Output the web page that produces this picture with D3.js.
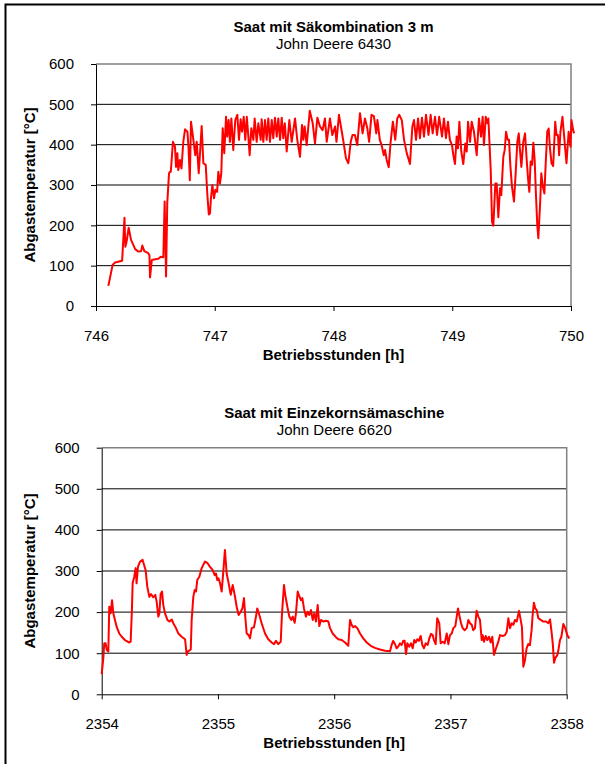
<!DOCTYPE html>
<html lang="de">
<head>
<meta charset="UTF-8">
<title>Abgastemperatur</title>
<script src="https://d3js.org/d3.v7.min.js"></script>
<style>
  body { margin: 0; background: #fff; }
  svg { display: block; font-family: "Liberation Sans", Arial, sans-serif; }
</style>
</head>
<body>
<svg id="chart" width="605" height="764"></svg>
<script>
// --- data ---
const hoursTop = [746.104,746.14,746.16,746.22,746.24,746.247,746.258,746.275,746.295,746.33,746.356,746.38,746.39,746.407,746.44,746.45,746.455,746.47,746.50,746.525,746.545,746.567,746.578,746.59,746.60,746.615,746.623,746.63,746.648,746.665,746.674,746.685,746.693,746.707,746.72,746.735,746.75,746.77,746.78,746.79,746.80,746.82,746.836,746.848,746.865,746.876,746.89,746.904,746.924,746.937,746.95,746.96,746.968,746.98,746.994,747.005,747.02,747.03,747.044,747.055,747.067,747.08,747.095,747.105,747.117,747.128,747.14,747.156,747.173,747.19,747.204,747.218,747.23,747.244,747.257,747.27,747.283,747.294,747.308,747.325,747.336,747.353,747.367,747.387,747.395,747.409,747.423,747.437,747.451,747.465,747.48,747.493,747.507,747.522,747.535,747.55,747.564,747.577,747.59,747.606,747.628,747.648,747.676,747.695,747.718,747.735,747.746,747.757,747.774,747.80,747.825,747.844,747.864,747.886,747.908,747.928,747.943,747.97,747.99,748.013,748.025,748.046,748.07,748.086,748.105,748.125,748.145,748.16,748.18,748.2,748.223,748.245,748.265,748.285,748.3,748.32,748.34,748.36,748.37,748.39,748.405,748.423,748.434,748.448,748.465,748.48,748.5,748.52,748.537,748.554,748.575,748.594,748.617,748.644,748.664,748.678,748.695,748.712,748.728,748.745,748.762,748.779,748.8,748.818,748.835,748.855,748.872,748.89,748.914,748.93,748.947,748.964,748.98,748.998,749.009,749.023,749.037,749.048,749.06,749.076,749.093,749.11,749.122,749.133,749.15,749.164,749.183,749.206,749.225,749.242,749.256,749.267,749.282,749.295,749.304,749.324,749.335,749.346,749.363,749.374,749.388,749.402,749.413,749.43,749.442,749.453,749.467,749.478,749.49,749.503,749.52,749.534,749.548,749.56,749.57,749.582,749.598,749.613,749.627,749.638,749.649,749.66,749.672,749.683,749.694,749.705,749.716,749.725,749.74,749.75,749.763,749.776,749.787,749.80,749.812,749.823,749.836,749.85,749.867,749.878,749.89,749.9,749.911,749.928,749.94,749.962,749.98,749.996,750.004,750.018,750.026];
const tempTop = [50,102,108,112,219,147,160,194,164,141,135,136,150,136,131,126,71,114,116,117,122,121,259,73,255,329,333,333,407,395,345,379,337,362,341,407,438,432,387,312,457,412,374,407,329,379,446,354,350,279,227,230,267,300,267,288,283,333,304,329,441,379,469,420,461,407,465,387,461,474,412,463,432,469,412,469,420,374,441,412,465,407,453,412,463,407,461,412,465,407,461,416,467,420,465,412,467,416,453,383,461,407,465,412,370,449,412,445,399,484,453,403,467,445,436,465,407,465,424,445,407,474,432,403,366,354,407,424,424,399,478,428,465,440,407,474,471,428,461,412,399,374,387,362,344,403,457,412,465,474,461,412,379,352,445,461,412,465,416,467,420,474,424,474,428,469,424,469,420,465,416,457,412,399,374,352,420,391,457,383,352,403,383,457,407,457,432,374,465,420,469,399,469,453,465,337,209,199,304,304,220,292,275,370,387,432,412,412,345,296,259,329,407,428,387,345,407,428,362,317,283,358,350,405,362,275,201,168,255,329,296,279,354,432,440,391,354,347,457,424,424,374,432,469,428,354,432,395,461,436,428];

const hoursBottom = [2354.0,2354.014,2354.022,2354.034,2354.043,2354.057,2354.065,2354.077,2354.089,2354.1,2354.114,2354.129,2354.151,2354.172,2354.2,2354.238,2354.249,2354.26,2354.266,2354.28,2354.292,2354.3,2354.312,2354.33,2354.352,2354.364,2354.378,2354.392,2354.41,2354.424,2354.444,2354.461,2354.473,2354.487,2354.496,2354.507,2354.519,2354.53,2354.545,2354.565,2354.582,2354.602,2354.616,2354.639,2354.659,2354.688,2354.717,2354.731,2354.74,2354.766,2354.774,2354.788,2354.8,2354.811,2354.822,2354.84,2354.86,2354.889,2354.908,2354.932,2354.955,2354.972,2354.983,2354.994,2355.006,2355.018,2355.032,2355.046,2355.06,2355.075,2355.092,2355.11,2355.127,2355.144,2355.161,2355.178,2355.196,2355.21,2355.224,2355.235,2355.247,2355.264,2355.276,2355.29,2355.31,2355.327,2355.338,2355.356,2355.376,2355.405,2355.433,2355.462,2355.482,2355.499,2355.519,2355.54,2355.551,2355.568,2355.579,2355.597,2355.614,2355.631,2355.643,2355.66,2355.671,2355.686,2355.7,2355.714,2355.726,2355.74,2355.757,2355.772,2355.786,2355.8,2355.815,2355.829,2355.843,2355.858,2355.872,2355.886,2355.906,2355.93,2355.949,2355.964,2355.987,2356.015,2356.035,2356.065,2356.093,2356.121,2356.136,2356.15,2356.164,2356.179,2356.199,2356.222,2356.25,2356.28,2356.314,2356.351,2356.394,2356.437,2356.48,2356.494,2356.508,2356.523,2356.537,2356.551,2356.566,2356.58,2356.594,2356.606,2356.618,2356.629,2356.646,2356.661,2356.675,2356.689,2356.701,2356.715,2356.729,2356.744,2356.758,2356.772,2356.787,2356.804,2356.818,2356.833,2356.847,2356.858,2356.873,2356.886,2356.904,2356.916,2356.933,2356.95,2356.968,2356.982,2356.996,2357.011,2357.025,2357.042,2357.054,2357.065,2357.076,2357.091,2357.105,2357.122,2357.14,2357.154,2357.168,2357.183,2357.196,2357.211,2357.225,2357.24,2357.254,2357.269,2357.277,2357.289,2357.303,2357.317,2357.332,2357.346,2357.36,2357.375,2357.392,2357.412,2357.426,2357.45,2357.469,2357.484,2357.498,2357.512,2357.527,2357.541,2357.555,2357.57,2357.59,2357.604,2357.615,2357.627,2357.641,2357.655,2357.669,2357.684,2357.698,2357.707,2357.718,2357.73,2357.742,2357.756,2357.776,2357.799,2357.822,2357.842,2357.857,2357.868,2357.88,2357.891,2357.902,2357.92,2357.931,2357.942,2357.954,2357.971,2357.988,2358.005,2358.022];
const tempBottom = [49,88,124,124,108,104,213,197,229,197,181,164,148,140,132,126,128,205,270,286,307,270,310,323,327,315,302,262,237,244,236,242,225,189,197,244,250,217,197,181,177,182,173,161,148,140,134,96,104,109,181,237,254,250,278,286,307,323,320,310,302,290,294,278,282,270,250,298,351,294,270,242,266,242,213,193,201,209,234,189,148,144,136,161,163,189,209,193,173,148,134,126,122,130,122,128,197,266,242,213,189,181,189,174,197,250,239,229,234,209,189,201,193,205,181,197,177,217,166,181,177,179,177,161,148,139,134,132,126,118,181,169,163,166,161,148,136,126,118,113,109,106,105,120,130,122,112,116,124,120,130,130,98,124,116,124,112,132,126,134,130,142,120,112,124,120,136,147,144,132,122,185,173,124,128,124,148,122,144,148,161,166,189,209,193,173,161,156,161,181,173,169,156,161,203,189,181,132,144,128,142,132,140,126,140,96,112,128,144,142,144,152,185,161,173,169,181,177,203,181,164,67,83,112,122,120,156,193,223,209,205,185,181,177,177,173,182,156,124,77,88,96,112,132,140,171,161,144,136];

const yTicks = [0, 100, 200, 300, 400, 500, 600];
const panels = [
  { title: "Saat mit Säkombination 3 m", sub: "John Deere 6430",
    hours: hoursTop, temps: tempTop, xTicks: [746, 747, 748, 749, 750],
    left: 96, right: 571, top: 64, bottom: 306, titleY: 32, subY: 49 },
  { title: "Saat mit Einzekornsämaschine", sub: "John Deere 6620",
    hours: hoursBottom, temps: tempBottom, xTicks: [2354, 2355, 2356, 2357, 2358],
    left: 101.7, right: 566.7, top: 447.7, bottom: 694.3, titleY: 418, subY: 435 }
];

const FS = 15;
const svg = d3.select("#chart");

// outer frame
svg.append("rect")
  .attr("x", 5.5).attr("y", 4.5).attr("width", 620).attr("height", 780)
  .attr("fill", "none").attr("stroke", "#000").attr("stroke-width", 2);

panels.forEach(p => {
  const x = d3.scaleLinear().domain(d3.extent(p.xTicks)).range([p.left, p.right]);
  const y = d3.scaleLinear().domain([0, 600]).range([p.bottom, p.top]);
  const g = svg.append("g");

  // gridlines
  g.selectAll("line.grid").data(yTicks.filter(t => t > 0 && t < 600)).enter()
    .append("line")
    .attr("x1", p.left).attr("x2", p.right)
    .attr("y1", d => y(d)).attr("y2", d => y(d))
    .attr("stroke", "#000").attr("stroke-width", 1);

  // plot frame top / right
  g.append("path")
    .attr("d", `M${p.left},${p.top}H${p.right}V${p.bottom}`)
    .attr("fill", "none").attr("stroke", "#808080").attr("stroke-width", 1.5);

  // axes
  const xAxis = g.append("g")
    .attr("transform", `translate(0,${p.bottom})`)
    .call(d3.axisBottom(x).tickValues(p.xTicks).tickFormat(d3.format("d"))
      .tickSize(5).tickPadding(19).tickSizeOuter(0));
  const yAxis = g.append("g")
    .attr("transform", `translate(${p.left},0)`)
    .call(d3.axisLeft(y).tickValues(yTicks).tickFormat(d3.format("d"))
      .tickSize(5).tickPadding(17).tickSizeOuter(0));
  [xAxis, yAxis].forEach(a => {
    a.select(".domain").attr("stroke", "#000");
    a.selectAll(".tick line").attr("stroke", "#000");
    a.selectAll("text").attr("font-size", FS).attr("fill", "#000")
      .attr("font-family", "Liberation Sans, Arial, sans-serif");
  });

  // series
  const pts = p.hours.map((h, i) => [h, p.temps[i]]);
  g.append("path")
    .datum(pts)
    .attr("fill", "none")
    .attr("stroke", "#ff0000")
    .attr("stroke-width", 2)
    .attr("stroke-linejoin", "round")
    .attr("d", d3.line().x(d => x(d[0])).y(d => y(d[1])));

  // titles
  const cx = (p.left + p.right) / 2;
  g.append("text").attr("x", cx).attr("y", p.titleY)
    .attr("text-anchor", "middle").attr("font-size", FS).attr("font-weight", "bold")
    .text(p.title);
  g.append("text").attr("x", cx).attr("y", p.subY)
    .attr("text-anchor", "middle").attr("font-size", FS)
    .text(p.sub);
  g.append("text").attr("x", cx).attr("y", p.bottom + 54)
    .attr("text-anchor", "middle").attr("font-size", FS).attr("font-weight", "bold")
    .text("Betriebsstunden [h]");
  g.append("text")
    .attr("transform", `translate(35,${(p.top + p.bottom) / 2}) rotate(-90)`)
    .attr("text-anchor", "middle").attr("font-size", FS).attr("font-weight", "bold")
    .text("Abgastemperatur [°C]");
});
</script>
</body>
</html>
